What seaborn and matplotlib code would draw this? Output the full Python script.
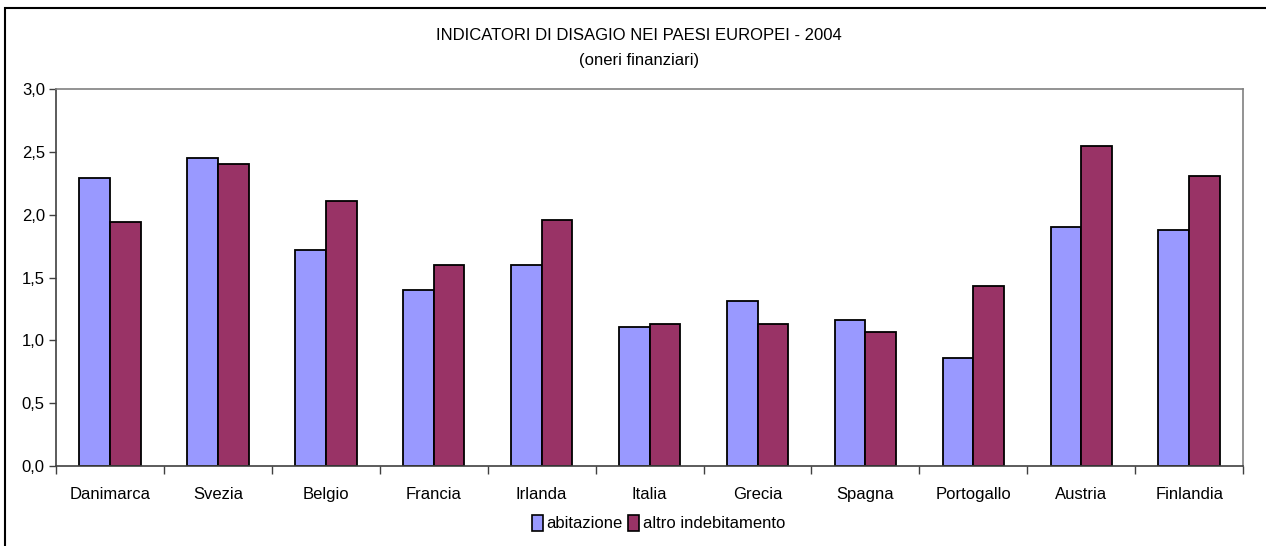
import matplotlib.pyplot as plt
import matplotlib.patches as mpatches
import pandas as pd
import seaborn as sns

paesi = ["Danimarca", "Svezia", "Belgio", "Francia", "Irlanda", "Italia",
         "Grecia", "Spagna", "Portogallo", "Austria", "Finlandia"]
abitazione = [2.29, 2.45, 1.72, 1.40, 1.60, 1.11, 1.31, 1.16, 0.86, 1.90, 1.88]
altro = [1.94, 2.40, 2.11, 1.60, 1.96, 1.13, 1.13, 1.07, 1.43, 2.55, 2.31]
serie = ["abitazione", "altro indebitamento"]
yticks = [0.0, 0.5, 1.0, 1.5, 2.0, 2.5, 3.0]

COLORS = ["#9999FF", "#993366"]
FONT = "Liberation Sans"

df = pd.DataFrame({
    "paese": paesi * 2,
    "valore": abitazione + altro,
    "serie": [serie[0]] * len(paesi) + [serie[1]] * len(paesi),
})

sns.set_style("white")
plt.rcParams["font.family"] = [FONT, "DejaVu Sans"]
plt.rcParams["text.color"] = "black"
plt.rcParams["xtick.color"] = "black"
plt.rcParams["ytick.color"] = "black"

fig = plt.figure(figsize=(12.66, 5.46), dpi=100)
ax = fig.add_axes([0.0442, 0.1465, 0.9378, 0.6905])

sns.barplot(data=df, x="paese", y="valore", hue="serie", palette=COLORS,
            saturation=1, width=0.57, edgecolor="black", linewidth=1.3,
            ax=ax, legend=False)

ax.set_ylim(0, 3.0)
ax.set_xlim(-0.5, len(paesi) - 0.5)
ax.set_yticks(yticks)
ax.set_yticklabels([f"{v:.1f}".replace(".", ",") for v in yticks], fontsize=12)
ax.set_xticks(range(len(paesi)))
ax.set_xticklabels(paesi, fontsize=12)
ax.set_xticks([i - 0.5 for i in range(len(paesi) + 1)], minor=True)
ax.tick_params(axis="x", which="major", bottom=True, length=0, pad=15)
ax.tick_params(axis="x", which="minor", bottom=True, length=6, width=1,
               direction="out", color="#404040")
ax.tick_params(axis="y", left=True, length=5, width=1, direction="out",
               color="#404040", pad=3)
ax.set_xlabel("")
ax.set_ylabel("")

for side in ["top", "right"]:
    ax.spines[side].set_color("#808080")
    ax.spines[side].set_linewidth(1.2)
for side in ["left", "bottom"]:
    ax.spines[side].set_color("#404040")
    ax.spines[side].set_linewidth(1.2)

fig.text(0.505, 0.935, "INDICATORI DI DISAGIO NEI PAESI EUROPEI - 2004",
         ha="center", va="center", fontsize=12)
fig.text(0.505, 0.89, "(oneri finanziari)", ha="center", va="center", fontsize=12)

handles = [mpatches.Patch(facecolor=c, edgecolor="black", linewidth=1.2) for c in COLORS]
fig.legend(handles, serie, loc="center", bbox_to_anchor=(0.52, 0.042), ncol=2,
           frameon=False, fontsize=12, handlelength=0.7, handleheight=1.1,
           handletextpad=0.2, columnspacing=0.3)

fig.patches.append(mpatches.Rectangle((0.004, -0.01), 1.0, 0.995,
                                      transform=fig.transFigure, fill=False,
                                      edgecolor="black", linewidth=1.5))

fig.savefig("out.png", dpi=100)
